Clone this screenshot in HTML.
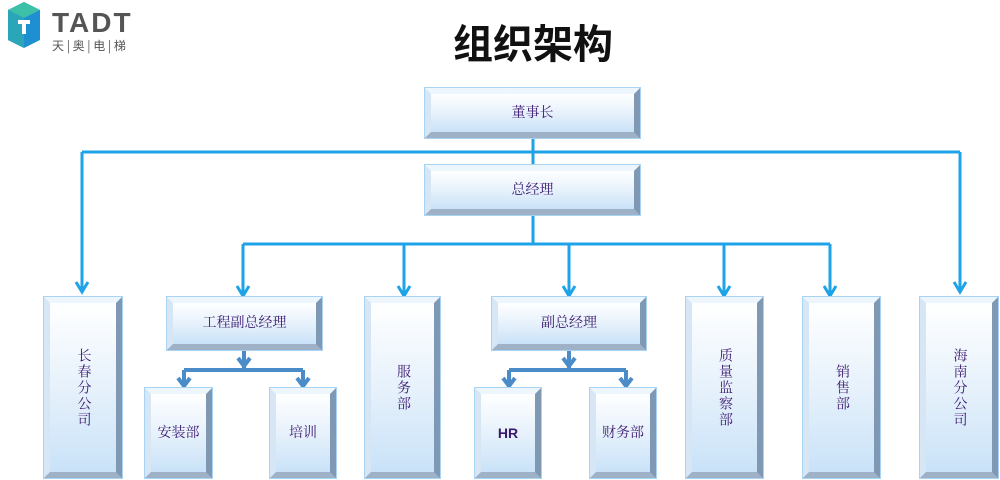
<!DOCTYPE html>
<html><head><meta charset="utf-8"><style>
body{margin:0;width:1000px;height:480px;background:#fff;position:relative;overflow:hidden;font-family:"Liberation Serif","Noto Serif CJK SC",serif}
.b{position:absolute;box-sizing:border-box;border-style:solid;border-width:6px;border-color:#eef6fd #7f98b4 #9fb1c6 #d6e6f5;outline:1px solid #a9d3f3;background:linear-gradient(180deg,#ffffff 0%,#e4f0fb 55%,#c9e2f8 100%);display:flex;align-items:center;justify-content:center;color:#3b1870;font-size:14px;text-align:center;line-height:17px}
.v{writing-mode:vertical-rl;letter-spacing:2px}
svg{position:absolute;left:0;top:0}
.t{position:absolute;left:0;width:1000px;top:12px;text-align:center;font:bold 40px "Liberation Sans","Noto Sans CJK SC",sans-serif;color:#111;padding-left:66px;box-sizing:border-box}
</style></head><body>
<svg width="1000" height="480">
<polygon points="8,10 24,2 40,10 40,40 24,48 8,40" fill="#1e8fd0"/>
<polygon points="8,10 24,2 40,10 24,18" fill="#3cc0a8"/>
<polygon points="8,10 24,18 24,48 8,40" fill="#2aa6b8"/>
<rect x="18" y="20" width="12" height="4" fill="#fff"/><rect x="22" y="20" width="4" height="14" fill="#fff"/>
<text x="52" y="32" font-family="Liberation Sans" font-weight="bold" font-size="28" fill="#555" letter-spacing="2">TADT</text>
<text x="52" y="50" font-family="Noto Sans CJK SC" font-size="12" fill="#555">天 | 奥 | 电 | 梯</text>
<g stroke="#1ea3e8" stroke-width="3" fill="none">
<path d="M533 138V165M82 152H960M533 215V244M243 244H830"/>
<path d="M82 152V290M960 152V290M243 244V294M404 244V294M569 244V294M724 244V294M830 244V294"/>
<path d="M76 282L82 292L88 282M954 282L960 292L966 282M237 286L243 296L249 286M398 286L404 296L410 286M563 286L569 296L575 286M718 286L724 296L730 286M824 286L830 296L836 286"/>
</g>
<g stroke="#4a8cc8" stroke-width="4" fill="none">
<path d="M244 350V370M184 370H303M184 370V384M303 370V384M178 378L184 386L190 378M297 378L303 386L309 378M238 358L244 366L250 358"/>
<path d="M569 350V370M509 370H626M509 370V384M626 370V384M503 378L509 386L515 378M620 378L626 386L632 378M563 358L569 366L575 358"/>
</g>
</svg>
<div class="t">组织架构</div>
<div class="b" style="left:425px;top:88px;width:215px;height:50px">董事长</div>
<div class="b" style="left:425px;top:165px;width:215px;height:50px">总经理</div>
<div class="b v" style="left:44px;top:297px;width:78px;height:181px">长春分公司</div>
<div class="b" style="left:167px;top:297px;width:155px;height:53px">工程副总经理</div>
<div class="b" style="left:145px;top:388px;width:67px;height:90px">安装部</div>
<div class="b" style="left:270px;top:388px;width:66px;height:90px">培训</div>
<div class="b v" style="left:365px;top:297px;width:75px;height:181px">服务部</div>
<div class="b" style="left:492px;top:297px;width:154px;height:53px">副总经理</div>
<div class="b" style="left:475px;top:388px;width:66px;height:90px;font-weight:bold;font-family:'Liberation Sans',sans-serif">HR</div>
<div class="b" style="left:590px;top:388px;width:66px;height:90px">财务部</div>
<div class="b v" style="left:686px;top:297px;width:77px;height:181px">质量监察部</div>
<div class="b v" style="left:803px;top:297px;width:77px;height:181px">销售部</div>
<div class="b v" style="left:920px;top:297px;width:78px;height:181px">海南分公司</div>
</body></html>
